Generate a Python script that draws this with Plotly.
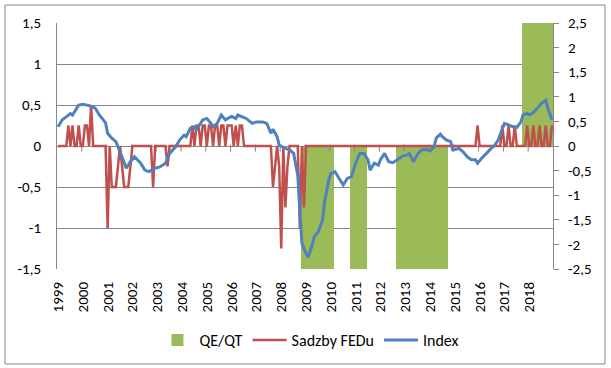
import plotly.graph_objects as go

# ---------------- data ----------------
year_labels = ["1999", "2000", "2001", "2002", "2003", "2004", "2005", "2006", "2007", "2008",
               "2009", "2010", "2011", "2012", "2013", "2014", "2015", "2016", "2017", "2018"]

# QE / QT periods (first month, last month), value on left axis (full-height bands)
qe_start = ["2008-11", "2010-11", "2012-09", "2017-10"]
qe_end = ["2010-02", "2011-06", "2014-09", "2018-12"]
qe_value = [-1.5, -1.5, -1.5, 1.5]

# Fed rate changes (monthly sum, percentage points); all other months are 0
fed_dates = ["1999-06", "1999-08", "1999-11", "2000-02", "2000-03", "2000-05",
             "2001-01", "2001-03", "2001-04", "2001-05", "2001-06", "2001-08", "2001-09",
             "2001-10", "2001-11", "2001-12", "2002-11", "2003-06",
             "2004-06", "2004-08", "2004-09", "2004-11", "2004-12",
             "2005-02", "2005-03", "2005-05", "2005-06", "2005-08", "2005-09", "2005-11", "2005-12",
             "2006-01", "2006-03", "2006-05", "2006-06",
             "2007-09", "2007-10", "2007-12", "2008-01", "2008-03", "2008-04", "2008-10", "2008-12",
             "2015-12", "2016-12", "2017-03", "2017-06", "2017-12",
             "2018-03", "2018-06", "2018-09", "2018-12"]
fed_changes = [0.25, 0.25, 0.25, 0.25, 0.25, 0.5,
               -1.0, -0.5, -0.5, -0.5, -0.25, -0.25, -0.5,
               -0.5, -0.5, -0.25, -0.5, -0.25,
               0.25, 0.25, 0.25, 0.25, 0.25,
               0.25, 0.25, 0.25, 0.25, 0.25, 0.25, 0.25, 0.25,
               0.25, 0.25, 0.25, 0.25,
               -0.5, -0.25, -0.25, -1.25, -0.75, -0.25, -1.0, -0.75,
               0.25, 0.25, 0.25, 0.25, 0.25,
               0.25, 0.25, 0.25, 0.25]

# Index (right axis); time in months since Jan 1999
index_t = [0, 2, 6, 7, 10, 12, 14, 16, 18, 20, 23, 24, 26, 28, 30, 32, 33, 35, 37, 40,
           42, 44, 47, 49, 52, 54, 57, 59, 61, 62, 64, 66, 67, 70, 72, 74, 75, 77, 79, 81,
           82, 84, 86, 87, 89, 91, 94, 96, 99, 101, 103, 104, 106, 107, 110, 112, 114, 116, 117, 118,
           120, 121, 123, 124, 126, 128, 129, 131, 132, 134, 136, 138, 140, 142, 144, 146, 148, 150, 151, 153,
           155, 156, 158, 160, 162, 165, 167, 169, 170, 172, 174, 176, 178, 180, 182, 183, 185, 186, 188, 190,
           191, 194, 196, 198, 200, 202, 203, 205, 207, 208, 210, 211, 213, 215, 216, 218, 220, 222, 224, 225,
           227, 228, 230, 232, 234, 236, 237, 239]
index_v = [0.39, 0.53, 0.66, 0.63, 0.83, 0.85, 0.83, 0.81, 0.77, 0.63, 0.47, 0.26, 0.16, 0.09, -0.12, -0.32, -0.45, -0.32, -0.22, -0.35,
           -0.49, -0.52, -0.45, -0.43, -0.35, -0.15, -0.01, 0.13, 0.22, 0.19, 0.36, 0.39, 0.33, 0.53, 0.56, 0.46, 0.39, 0.46, 0.63, 0.53,
           0.56, 0.60, 0.56, 0.63, 0.60, 0.56, 0.46, 0.49, 0.49, 0.46, 0.26, 0.34, 0.19, 0.02, -0.05, -0.08, -0.15, -0.60, -1.30, -1.98,
           -2.18, -2.26, -2.01, -1.84, -1.74, -1.50, -1.13, -0.69, -0.56, -0.52, -0.66, -0.79, -0.66, -0.62, -0.35, -0.15, -0.15, -0.28, -0.49, -0.35,
           -0.39, -0.28, -0.15, -0.32, -0.34, -0.25, -0.20, -0.18, -0.15, -0.32, -0.16, -0.08, -0.07, -0.10, -0.01, 0.16, 0.24, 0.19, 0.12, 0.09,
           -0.08, -0.05, -0.12, -0.22, -0.28, -0.28, -0.35, -0.25, -0.15, -0.12, -0.03, 0.00, 0.12, 0.33, 0.46, 0.43, 0.39, 0.38, 0.49, 0.63,
           0.66, 0.63, 0.68, 0.77, 0.87, 0.93, 0.77, 0.53]

left_ticks = [-1.5, -1.0, -0.5, 0.0, 0.5, 1.0, 1.5]
left_labels = ["-1,5", "-1", "-0,5", "0", "0,5", "1", "1,5"]
right_ticks = [-2.5, -2.0, -1.5, -1.0, -0.5, 0.0, 0.5, 1.0, 1.5, 2.0, 2.5]
right_labels = ["-2,5", "-2", "-1,5", "-1", "-0,5", "0", "0,5", "1", "1,5", "2", "2,5"]

# ---------------- helpers ----------------
def month_idx(s):
    y, m = s.split("-")
    return (int(y) - 1999) * 12 + int(m) - 1

n_months = len(year_labels) * 12
fed_series = [0.0] * n_months
for d, v in zip(fed_dates, fed_changes):
    fed_series[month_idx(d)] += v

qe_x = []
qe_w = []
for s, e in zip(qe_start, qe_end):
    a, b = month_idx(s) - 0.5, month_idx(e) + 0.5
    qe_x.append((a + b) / 2)
    qe_w.append(b - a)

GREEN = "#9BBB59"
RED = "#C0504D"
BLUE = "#4F81BD"
GRID = "#868686"
FONT = "Calibri, Carlito, Lato, sans-serif"

fig = go.Figure()

fig.add_trace(go.Bar(x=qe_x, y=qe_value, width=qe_w, name="QE/QT",
                     marker=dict(color=GREEN, line=dict(width=0)), yaxis="y",
                     hoverinfo="skip"))

# small category tick marks on the horizontal (zero) axis line
year_bounds = [12 * k - 0.5 for k in range(1, len(year_labels))]
fig.add_trace(go.Scatter(x=year_bounds, y=[-0.025] * len(year_bounds), mode="markers",
                         marker=dict(symbol="line-ns", size=5, line=dict(color=GRID, width=1)),
                         showlegend=False, hoverinfo="skip", yaxis="y"))

fig.add_trace(go.Scatter(x=list(range(n_months)), y=fed_series, mode="lines", name="Sadzby FEDu",
                         line=dict(color=RED, width=2.5), yaxis="y"))

fig.add_trace(go.Scatter(x=index_t, y=index_v, mode="lines", name="Index",
                         line=dict(color=BLUE, width=3), yaxis="y2"))

# outer chart border
fig.add_shape(type="rect", xref="paper", yref="paper",
              x0=-0.1048, x1=1.1048, y0=-0.386, y1=1.0732,
              line=dict(color=GRID, width=1), fillcolor="rgba(0,0,0,0)", layer="below")

fig.update_layout(
    width=611, height=368,
    margin=dict(l=57, r=58, t=23, b=99, autoexpand=False),
    paper_bgcolor="white", plot_bgcolor="white",
    font=dict(family=FONT, size=15, color="#000000"),
    showlegend=True,
    legend=dict(orientation="h", x=0.51, xanchor="center", y=-0.289, yanchor="middle",
                font=dict(size=16), bgcolor="rgba(0,0,0,0)", itemwidth=34),
    xaxis=dict(range=[-0.5, n_months - 0.5], tickmode="array",
               tickvals=[12 * k for k in range(len(year_labels))], ticktext=year_labels,
               tickangle=-90, showgrid=False, zeroline=False, showline=False, ticks="",
               ticklabelstandoff=9, tickfont=dict(size=15), automargin=False),
    yaxis=dict(range=[-1.5, 1.5], tickmode="array", tickvals=left_ticks, ticktext=left_labels,
               showgrid=True, gridcolor=GRID, gridwidth=1, zeroline=False,
               showline=True, linecolor=GRID, linewidth=1, ticks="", ticklabelstandoff=12,
               automargin=False),
    yaxis2=dict(range=[-2.5, 2.5], overlaying="y", side="right", tickmode="array",
                tickvals=right_ticks, ticktext=right_labels, showgrid=False, zeroline=False,
                showline=True, linecolor=GRID, linewidth=1, ticks="outside", ticklen=5,
                tickcolor=GRID, ticklabelstandoff=6, automargin=False),
    bargap=0,
)

fig.write_html("out.html", config={"displayModeBar": False},
               post_script="document.body.style.margin='0';")
